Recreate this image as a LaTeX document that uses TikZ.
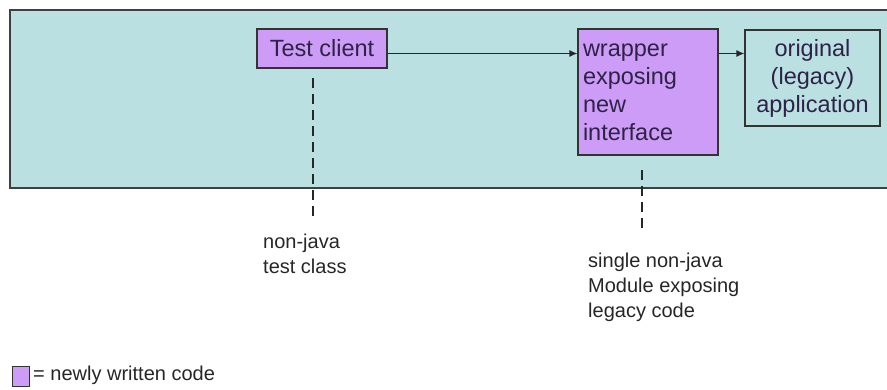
\documentclass[tikz,border=0pt]{standalone}
\usepackage{fontspec}
\setmainfont{Liberation Sans}
\usetikzlibrary{arrows.meta, positioning}

\definecolor{tealbg}{HTML}{BAE0E2}
\definecolor{newcode}{HTML}{CC9CF6}
\definecolor{boxtext}{HTML}{2E2248}

\begin{document}
\begin{tikzpicture}[x=1pt, y=-1pt,
    block/.style={draw=black!80, line width=1.2pt, inner sep=0pt, font=\fontsize{23.5}{28}\selectfont, text=boxtext},
    newblock/.style={block, fill=newcode},
    oldblock/.style={block, fill=tealbg},
    note/.style={align=left, inner sep=0pt, font=\fontsize{20}{25}\selectfont, text=black!85},
    link/.style={-{Latex[length=8pt, width=7pt]}, line width=1.2pt, black!85},
    guide/.style={dash pattern=on 10pt off 6pt, line width=1.1pt, black!85}]
    \useasboundingbox (0,0) rectangle (887,389);
    % surrounding frame
    \fill[tealbg] (10,10) rectangle (895,188);
    \draw[line width=1.4pt, black!75] (895,10) -- (10,10) -- (10,188) -- (895,188);

    \node[newblock, minimum width=130pt, minimum height=39pt] (client) at (322,48.5) {Test client};
    \node[newblock, minimum width=140pt, minimum height=126pt, text width=130pt, align=left] (wrapper) at (648,92) {wrapper\\exposing\\new\\interface};
    \node[oldblock, minimum width=135pt, minimum height=96pt, align=center] (legacy) at (812.5,78) {original\\(legacy)\\application};

    \coordinate (mid) at (0,53.5);
    \draw[link] (client.east |- mid) -- (wrapper.west |- mid);
    \draw[link] (wrapper.east |- mid) -- (legacy.west |- mid);

    % notes below
    \coordinate (clientend) at (313,222);
    \coordinate (wrapperend) at (642,232);
    \draw[guide] (313,78) -- (clientend);
    \draw[guide] (642,170) -- (wrapperend);
    \node[note, anchor=north west] (clientnote) at (263,234) {non-java\\test class};
    \node[note, anchor=north west] (wrappernote) at (588,253) {single non-java\\Module exposing\\legacy code};

    % legend
    \node[draw=black!80, fill=newcode, line width=1pt, minimum width=17pt, minimum height=20pt, inner sep=0pt] (key) at (21,376) {};
    \node[note, anchor=west] (keytext) at (33,375) {= newly written code};
\end{tikzpicture}
\end{document}
